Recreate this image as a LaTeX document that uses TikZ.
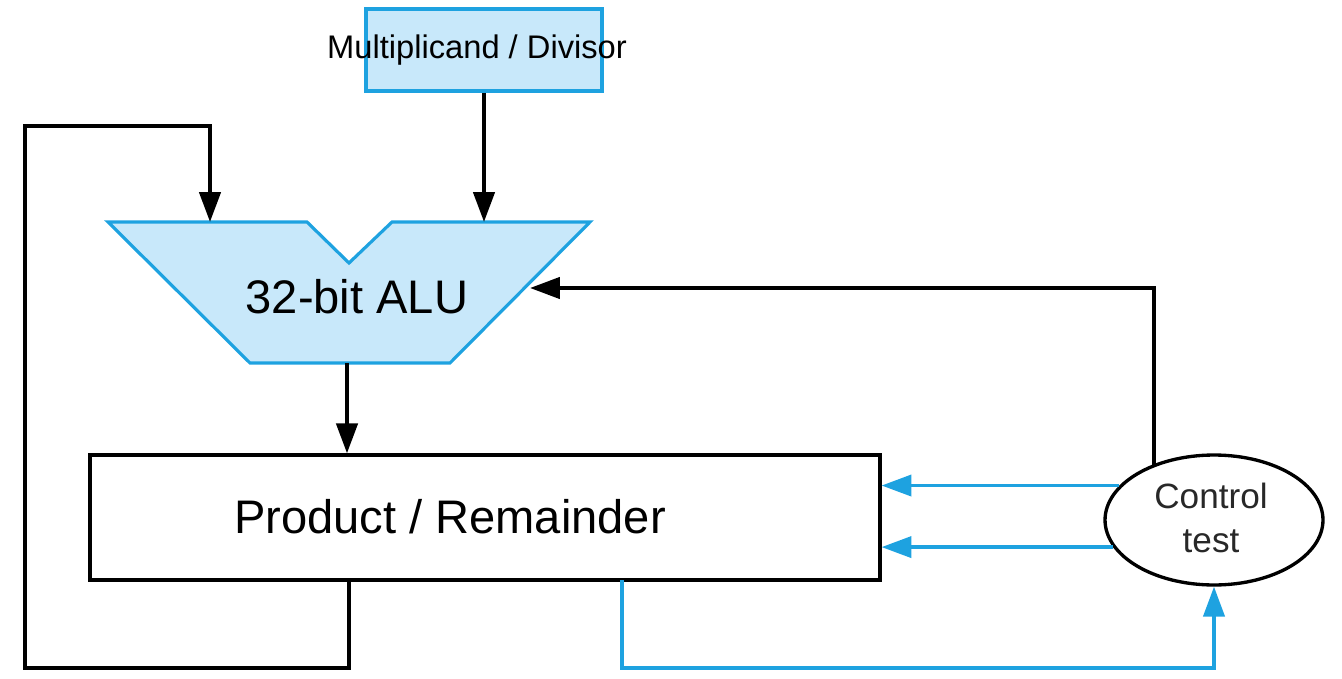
\documentclass[tikz,border=0pt]{standalone}
\usepackage{fontspec}
\setmainfont{Liberation Sans}
\usetikzlibrary{arrows.meta,shapes.geometric,backgrounds}
\definecolor{aluBlue}{RGB}{30,162,224}
\definecolor{aluFill}{RGB}{200,232,250}
\definecolor{ctlGray}{RGB}{40,40,40}
\begin{document}
\begin{tikzpicture}[x=0.02cm,y=-0.02cm,
  tip/.style={-{Triangle[length=17pt,width=12pt]}},
  blk/.style={draw=black,line width=2.3pt,tip},
  blu/.style={draw=aluBlue,line width=2.1pt,tip},
  bluebox/.style={draw=aluBlue,fill=aluFill,line width=2.2pt},
  plainbox/.style={draw=black,line width=1.9pt,fill=white,inner sep=0pt},
  bigtext/.style={font=\fontsize{26.8}{30}\selectfont,inner sep=0pt},
  midtext/.style={font=\fontsize{18.6}{22}\selectfont,inner sep=0pt},
  ctltext/.style={font=\fontsize{20}{25}\selectfont,text=ctlGray,align=center,inner sep=0pt}]
\useasboundingbox (0,0) rectangle (1342,679);
% Multiplicand / Divisor
\node[bluebox,rectangle,minimum width=4.72cm,minimum height=1.64cm,inner sep=0pt] (mc) at (484,50) {};
\node[midtext] (mclabel) at (477,50) {Multiplicand / Divisor};
% ALU
\draw[draw=aluBlue,fill=aluFill,line width=1.8pt,line join=miter]
  (108,222) -- (307,222) -- (349,263) -- (392,222) -- (590,222) -- (450,363) -- (250,363) -- cycle;
\node[bigtext] (alu) at (357,297) {32-bit ALU};
\coordinate (aluin1) at (210,222);
\coordinate (aluin2) at (484,222);
\coordinate (aluright) at (530,288);
\coordinate (aluout) at (347,363);
% Product / Remainder
\node[plainbox,rectangle,minimum width=15.8cm,minimum height=2.5cm] (prod) at (485,517.5) {};
\node[bigtext] (prodlabel) at (450,517) {Product / Remainder};
\coordinate (pb1) at (349,580);
\coordinate (pb2) at (622,580);
\coordinate (loopTop) at (25,126);
% Control test
\node[ellipse,draw=black,line width=1.9pt,fill=white,minimum width=4.36cm,minimum height=2.6cm,inner sep=0pt] (ctl) at (1214,520) {};
\node[ctltext] (ctllabel) at (1211,518) {Control\\test};
% connectors
\draw[blk] (mc.south) -- (aluin2);
\draw[blk] (aluout) -- (aluout |- prod.north);
\draw[blk] (pb1) -- (pb1 |- 0,668) -| (loopTop) -| (aluin1);
\begin{scope}[on background layer]
\draw[blk] ([xshift=-1.2cm]ctl.center) |- (aluright);
\end{scope}
\draw[blu] (ctl.160.7) -- (ctl.160.7 -| prod.east);
\draw[blu] (ctl.195.3) -- (ctl.195.3 -| prod.east);
\draw[blu] (pb2) -- (pb2 |- 0,668) -| (ctl.south);
\end{tikzpicture}
\end{document}
